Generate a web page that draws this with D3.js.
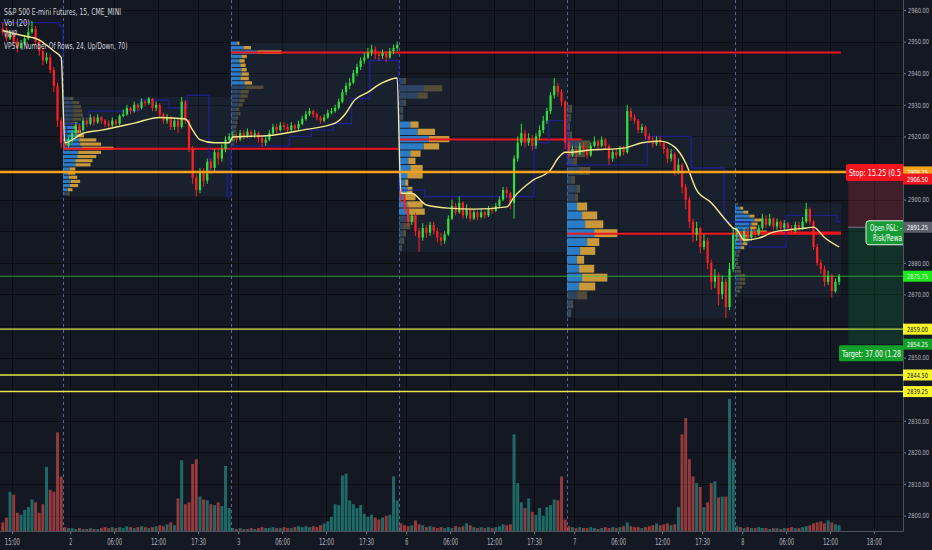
<!DOCTYPE html>
<html>
<head>
<meta charset="utf-8">
<title>S&amp;P 500 E-mini Futures, 15</title>
<script src="https://cdn.jsdelivr.net/npm/d3@7"></script>
<style>
  html, body { margin: 0; padding: 0; background: #141823; overflow: hidden; }
  svg { display: block; }
  text { font-family: "Liberation Sans Narrow", "DejaVu Sans Condensed", "Noto Sans", sans-serif; }
</style>
</head>
<body>
<script>
// ---- values, 30 min bars, one session = 46 bars ----
var firstOpen = 2954;
var gapOpens = { 109: 2903 };   // sunday open after the weekend gap

var closes = [
  2953, 2951, 2952.5, 2950, 2948, 2949.5, 2951, 2953, 2954, 2950, 2947, 2944, 2945, 2941, 2936, 2925, 2918,
  2917, 2919, 2921, 2923.5, 2922, 2925, 2924, 2926, 2924.5, 2926, 2925, 2924, 2923.5, 2925, 2924, 2926.5, 2927, 2929, 2928, 2930, 2929, 2931, 2930.5, 2932, 2929, 2930, 2927, 2925, 2926, 2923, 2925, 2923, 2931, 2925, 2916, 2907, 2903, 2909, 2906, 2912, 2910, 2915, 2913, 2916, 2919, 2920,
  2920, 2919, 2921, 2920, 2921.5, 2920.5, 2921, 2919.5, 2918, 2919, 2921, 2923, 2922, 2923.5, 2923, 2922, 2923.5, 2922.5, 2924, 2925.5, 2927, 2928, 2927, 2926, 2925, 2926, 2927.5, 2928, 2929, 2931, 2934, 2936, 2937, 2940, 2942, 2944, 2945, 2946.5, 2947.5, 2946, 2945.5, 2946.5, 2945, 2947, 2948, 2949,
  2901, 2897, 2893, 2895, 2890, 2888, 2891, 2889.5, 2892, 2890, 2888, 2887, 2889, 2894, 2898, 2896, 2899, 2895, 2897, 2894, 2896, 2894.5, 2896, 2895, 2897, 2896.5, 2898, 2900, 2903, 2902, 2899, 2913, 2918, 2921, 2918, 2919.5, 2917, 2920, 2922, 2925, 2928, 2933, 2936, 2934, 2931, 2918,
  2914, 2916, 2914.5, 2917, 2916, 2914, 2917, 2918.5, 2917, 2919, 2917, 2913, 2915, 2914, 2916, 2915, 2928, 2926, 2925, 2922, 2923, 2920, 2919, 2917.5, 2919, 2918, 2916, 2913, 2914.5, 2909, 2911, 2904, 2900, 2893, 2889, 2891, 2885, 2887, 2880, 2874, 2876, 2870, 2874, 2866, 2878, 2889,
  2889.5, 2887, 2890, 2888, 2890, 2889, 2891, 2894, 2892, 2894, 2891.5, 2893, 2891, 2892.5, 2891, 2890, 2892, 2891, 2893, 2897, 2893, 2885, 2880, 2878, 2874, 2876, 2871, 2874, 2875.75
];
var highs = [
  2956, 2954.5, 2953.5, 2953.5, 2951, 2950.5, 2952, 2954.5, 2956.5, 2955, 2951, 2948, 2946.5, 2946, 2942, 2937, 2926,
  2919.5, 2920, 2922, 2924.5, 2924, 2926, 2926, 2927, 2926.5, 2927, 2926.5, 2925.5, 2925, 2926, 2925.5, 2927, 2928.5, 2930, 2929.5, 2931, 2930.5, 2932, 2931.5, 2932.5, 2932, 2931, 2930.5, 2927.5, 2927, 2926.5, 2926, 2925.5, 2932.5, 2931.5, 2925.5, 2917, 2908, 2910, 2910, 2913, 2913, 2916, 2916, 2917.5, 2920, 2921,
  2921.5, 2921, 2922, 2922, 2922.5, 2922, 2922, 2921.5, 2920, 2920, 2922, 2924, 2924, 2924.5, 2924.5, 2924, 2924.5, 2924, 2925, 2926.5, 2928, 2929, 2928.5, 2927.5, 2926.5, 2927, 2928.5, 2929, 2930, 2932, 2935, 2937, 2938.5, 2941, 2943, 2945, 2946.5, 2948, 2949, 2948.5, 2947, 2947.5, 2947, 2948, 2949, 2950,
  2904, 2902, 2898, 2896.5, 2896, 2891, 2892.5, 2892, 2893, 2893, 2891, 2889.5, 2890, 2895, 2900, 2899, 2901, 2899.5, 2898.5, 2897.5, 2897, 2896.5, 2897, 2896.5, 2898, 2898, 2899, 2901, 2904, 2904, 2902.5, 2914, 2920, 2924, 2922, 2921, 2920.5, 2921, 2923.5, 2926.5, 2929, 2934, 2938.5, 2937, 2935, 2931.5,
  2918.5, 2917, 2917, 2918, 2918, 2916.5, 2918, 2920, 2919, 2920, 2919.5, 2917.5, 2916, 2916, 2917, 2917, 2930, 2929, 2927, 2925.5, 2924, 2923.5, 2921, 2920, 2920, 2920, 2918.5, 2916.5, 2916, 2915, 2913, 2911.5, 2905, 2901, 2894, 2893, 2891.5, 2889, 2888, 2881, 2878, 2877, 2876, 2875, 2880, 2891,
  2891, 2890, 2891, 2891, 2891, 2891, 2892, 2895.5, 2895, 2895.5, 2894.5, 2894, 2893.5, 2893.5, 2893, 2892, 2893, 2893, 2894.5, 2899, 2897.5, 2893.5, 2886, 2881, 2879, 2877.5, 2876.5, 2875, 2876.5
];
var lows = [
  2952, 2950, 2950.5, 2949, 2946.5, 2947.5, 2949, 2950.5, 2952.5, 2949, 2945.5, 2942.5, 2943, 2940, 2934, 2923, 2916.5,
  2916, 2916.5, 2918, 2920.5, 2921, 2921.5, 2923, 2923.5, 2923.5, 2924, 2924, 2923, 2922.5, 2923, 2923, 2923.5, 2926, 2926.5, 2927, 2927.5, 2928, 2928.5, 2929.5, 2930, 2928, 2928, 2926, 2924, 2924, 2922, 2922, 2921, 2922.5, 2924, 2915, 2905, 2901, 2902, 2904, 2905, 2908, 2909, 2911, 2912, 2915, 2918,
  2918.5, 2918, 2918.5, 2919, 2919.5, 2919.5, 2919.5, 2918, 2916.6, 2917, 2918.5, 2920.5, 2921, 2921.5, 2922, 2921, 2921.5, 2921.5, 2922, 2923.5, 2925, 2926.5, 2926, 2925, 2924, 2924.5, 2925.5, 2927, 2927.5, 2928.5, 2930.5, 2933, 2935, 2936.5, 2939, 2941, 2943, 2944.5, 2945.5, 2944.5, 2944, 2944.5, 2943.5, 2944.5, 2946, 2947,
  2899, 2896, 2891.5, 2892, 2888.5, 2883.5, 2887, 2888, 2888.5, 2889, 2886.5, 2885.5, 2886, 2888.5, 2893.5, 2895, 2895.5, 2894, 2894, 2893, 2893.5, 2893.5, 2894, 2894, 2894.5, 2895.5, 2896, 2897.5, 2899.5, 2900.5, 2897, 2894, 2912, 2917, 2916.5, 2917, 2915.5, 2916, 2919, 2921, 2924, 2927, 2932, 2932.5, 2929.5, 2916,
  2913, 2913.5, 2913, 2914, 2915, 2913, 2913.5, 2916.5, 2916, 2916.5, 2916, 2911, 2912, 2913, 2913.5, 2914, 2914.5, 2925, 2924, 2921, 2921, 2919, 2918, 2916.5, 2917, 2917, 2914.5, 2911.5, 2912, 2907.5, 2908, 2902, 2897, 2891, 2886.5, 2887, 2883, 2884, 2878, 2871.5, 2872, 2866.5, 2868.5, 2862.5, 2865, 2877,
  2887, 2885.5, 2886, 2887, 2887, 2888, 2888.5, 2890.5, 2891, 2891.5, 2890.5, 2890.5, 2890, 2890, 2890, 2889, 2889.5, 2890, 2890.5, 2892.5, 2892, 2884, 2879, 2876.5, 2872.5, 2873, 2869, 2870.5, 2873
];
// contracts, thousands
var volumes = [
  9, 14, 41, 38, 19, 17, 22, 25, 33, 30, 19, 28, 67, 43, 41, 103, 57,
  4, 3, 3, 2, 3, 2, 2, 3, 2, 2, 3, 4, 3, 4, 3, 4, 3, 5, 4, 3, 4, 5, 4, 3, 4, 5, 6, 5, 7, 9, 6, 34, 74, 28, 30, 70, 75, 36, 33, 32, 28, 27, 30, 26, 68, 24,
  3, 2, 3, 2, 2, 3, 2, 3, 4, 3, 3, 4, 3, 3, 4, 3, 3, 4, 5, 4, 5, 4, 5, 4, 6, 8, 10, 15, 28, 27, 58, 60, 32, 28, 24, 27, 18, 15, 17, 14, 12, 14, 16, 17, 57, 32,
  8, 6, 5, 6, 11, 7, 6, 4, 5, 4, 3, 4, 3, 4, 3, 5, 4, 5, 8, 6, 4, 3, 4, 3, 4, 3, 4, 5, 7, 6, 7, 101, 50, 30, 24, 34, 20, 17, 24, 16, 25, 27, 33, 32, 57, 12,
  5, 4, 3, 4, 3, 3, 4, 3, 2, 3, 4, 3, 4, 3, 4, 5, 9, 5, 4, 4, 3, 4, 5, 6, 8, 6, 7, 8, 6, 7, 25, 101, 118, 75, 57, 50, 46, 25, 30, 50, 52, 35, 36, 36, 138, 75,
  5, 4, 3, 4, 3, 3, 4, 3, 3, 2, 3, 3, 2, 3, 3, 4, 3, 3, 4, 5, 6, 8, 9, 10, 8, 11, 9, 7, 6
];

var tickIdx = [3, 19, 31, 43, 54, 65, 77, 89, 100, 111, 123, 135, 146, 157, 169, 181, 192, 203, 215, 227, 239];
var tickLabels = ["15:00", "2", "06:00", "12:00", "17:30", "3", "06:00", "12:00", "17:30", "6", "06:00", "12:00", "17:30", "7", "06:00", "12:00", "17:30", "8", "06:00", "12:00", "18:00"];

var vwapIdx = [0, 5, 10, 14, 16, 17, 22, 27, 36, 43, 50, 52, 54, 58, 62, 63, 73, 82, 91, 94, 96, 100, 104, 108,
  109, 112, 116, 122, 129, 138, 140, 145, 150, 152, 154, 155, 161, 170, 175, 180, 184, 187, 190, 194, 198, 200,
  201, 203, 207, 211, 215, 220, 222, 225, 229];
var vwapVal = [2953.5, 2952, 2950.5, 2947, 2945, 2918, 2921, 2922, 2924.2, 2926, 2925.5, 2922, 2919, 2918, 2918,
  2919.8, 2920.3, 2922, 2924.2, 2927.4, 2931, 2934, 2937, 2938.5,
  2902, 2902, 2898.3, 2897.3, 2897, 2897.7, 2900.8, 2906, 2909.4, 2913, 2915,
  2915, 2915.7, 2916.3, 2918, 2918.5, 2916.6, 2911.6, 2903, 2899, 2893.5, 2891,
  2890.5, 2887.2, 2887.8, 2889.7, 2890.4, 2891, 2891.3, 2888, 2885];

// the dark blue stepped line
var bandIdx = [0, 16, 17, 18, 24, 38, 46, 51, 57, 62, 63, 79, 85, 91, 96, 101, 109, 116, 146, 150, 155, 177, 189, 198, 205, 215, 229];
var bandVal = [2956, 2955, 2920, 2924, 2928, 2931.5, 2929, 2933, 2909, 2901, 2917, 2920, 2922, 2924, 2932, 2944, 2903, 2901, 2918, 2925, 2911, 2920, 2910, 2893, 2885, 2895, 2893];

// session volume profiles (24 rows, bottom row first)
var sessionStart = [17, 63, 109, 155, 201];
var sessionEnd = [63, 109, 155, 201, 230];
var profileLow = [2901, 2916.6, 2883.4, 2862.5, 2869];
var profileHigh = [2932.5, 2950, 2938.5, 2930, 2899];
var vaLow = [1, 14, 5, 3, 12];
var vaHigh = [16, 23, 17, 12, 22];
var pocEnd = [109, 230, 159, 230, 230];

var upRows2 = [4, 5, 7, 8, 6, 5, 7, 13, 13, 15, 16, 20, 18, 17, 14, 15, 11, 8, 10, 11, 11, 11, 10, 7];
var downRows2 = [3, 5, 9, 10, 9, 8, 6, 16, 18, 20, 24, 33, 22, 18, 8, 4, 3, 8, 9, 10, 9, 8, 7, 4];
var upRows3 = [2, 3, 3, 4, 3, 4, 5, 6, 5, 7, 8, 9, 9, 14, 13, 9, 10, 10, 9, 8, 10, 25, 12, 6];
var downRows3 = [1, 1, 2, 1, 2, 2, 2, 3, 3, 4, 5, 7, 8, 17, 7, 8, 7, 5, 5, 5, 5, 23, 7, 2];
var upRows6 = [2, 3, 4, 4, 9, 8, 8, 6, 8, 6, 8, 11, 9, 11, 24, 29, 18, 11, 3, 3, 5, 18, 24, 5];
var downRows6 = [1, 2, 3, 7, 8, 17, 15, 10, 5, 3, 15, 12, 7, 10, 15, 20, 17, 8, 1, 1, 2, 10, 18, 2];
var upRows7 = [3, 4, 10, 12, 15, 12, 10, 13, 20, 27, 18, 15, 10, 8, 10, 5, 12, 6, 10, 14, 3, 2, 3, 3];
var downRows7 = [1, 2, 10, 16, 25, 15, 7, 15, 12, 23, 18, 15, 10, 3, 3, 3, 11, 4, 8, 9, 2, 1, 1, 2];
var upRows8 = [1, 2, 3, 4, 5, 4, 2, 2, 1, 2, 2, 3, 6, 8, 9, 10, 21, 14, 16, 19, 14, 8, 5, 2];
var downRows8 = [1, 3, 4, 6, 5, 6, 4, 3, 2, 1, 2, 2, 3, 4, 5, 6, 10, 7, 6, 8, 5, 5, 3, 1];
var upRows = [upRows2, upRows3, upRows6, upRows7, upRows8];
var downRows = [downRows2, downRows3, downRows6, downRows7, downRows8];

// drawings and the short position
var yellowLevels = [2859.00, 2844.50, 2839.25];
var orangeLevel = 2908.75;
var entryPrice = 2891.25, stopPrice = 2906.50, targetPrice = 2854.25;
var posStartIdx = 232;

var legendLines = ["S&P 500 E-mini Futures, 15, CME_MINI", "Vol (20)", "VWAP", "VPSV (Number Of Rows, 24, Up/Down, 70)"];

var chart = (function() {
  var W = 932, H = 550, right = 903, bottom = 531;
  var bg = "#141823";

  // squeeze text to the narrow TradingView look
  var narrow = function(sel, perChar) {
    sel.attr("textLength", function() { return this.textContent.length * perChar; })
      .attr("lengthAdjust", "spacingAndGlyphs");
  };

  var svg = d3.select("body").append("svg").attr("width", W).attr("height", H);

  // bar index -> x (left edge of the bar)
  var x = d3.scaleLinear().domain([17, 63]).range([63, 231]);
  var bw = x(1) - x(0);
  var y = d3.scaleLinear().domain([2800, 2960]).range([515.6, 10]);
  var yv = d3.scaleLinear().domain([0, 140]).range([bottom, bottom - 134]);

  var bars = closes.map(function(c, i) {
    var o = gapOpens[i] !== undefined ? gapOpens[i] : (i === 0 ? firstOpen : closes[i - 1]);
    return { i: i, o: o, h: highs[i], l: lows[i], c: c, v: volumes[i], up: c >= o };
  });

  svg.append("rect").attr("width", W).attr("height", H).attr("fill", bg);
  svg.append("defs").append("clipPath").attr("id", "plot")
    .append("rect").attr("width", right).attr("height", bottom);
  var plot = svg.append("g").attr("clip-path", "url(#plot)");

  // grid
  var grid = plot.append("g").attr("stroke", "#0a0c11").attr("stroke-width", 1);
  grid.selectAll("line.h").data(d3.range(2800, 2961, 10)).enter().append("line")
    .attr("class", "h")
    .attr("x1", 0).attr("x2", right)
    .attr("y1", function(d) { return Math.round(y(d)) + 0.5; })
    .attr("y2", function(d) { return Math.round(y(d)) + 0.5; });
  grid.selectAll("line.v").data(tickIdx).enter().append("line")
    .attr("class", "v")
    .attr("y1", 0).attr("y2", bottom)
    .attr("x1", function(d) { return Math.round(x(d)) + 0.5; })
    .attr("x2", function(d) { return Math.round(x(d)) + 0.5; });

  // session breaks
  plot.append("g").selectAll("line").data(sessionStart).enter().append("line")
    .attr("x1", function(d) { return Math.round(x(d)) + 0.5; })
    .attr("x2", function(d) { return Math.round(x(d)) + 0.5; })
    .attr("y1", 0).attr("y2", bottom)
    .attr("stroke", "#56648f").attr("stroke-dasharray", "3,3").attr("stroke-width", 1);

  // profile boxes
  plot.append("g").selectAll("rect").data(sessionStart).enter().append("rect")
    .attr("x", function(d) { return x(d); })
    .attr("width", function(d, s) { return x(sessionEnd[s]) - x(d); })
    .attr("y", function(d, s) { return y(profileHigh[s]); })
    .attr("height", function(d, s) { return y(profileLow[s]) - y(profileHigh[s]); })
    .attr("fill", "#5d8fd0").attr("fill-opacity", 0.075);

  // volume
  plot.append("g").selectAll("rect").data(bars).enter().append("rect")
    .attr("x", function(d) { return x(d.i) + 0.35; })
    .attr("width", bw - 0.7)
    .attr("y", function(d) { return yv(d.v); })
    .attr("height", function(d) { return bottom - yv(d.v); })
    .attr("fill", function(d) { return d.up ? "#26a69a" : "#ef5350"; })
    .attr("fill-opacity", 0.58);

  // volume profiles
  var pocs = [];
  var prof = plot.append("g");
  sessionStart.forEach(function(start, s) {
    var lo = profileLow[s], hi = profileHigh[s];
    var rowH = (hi - lo) / 24;
    var rows = upRows[s].map(function(u, k) {
      return { k: k, up: u, dn: downRows[s][k], va: k >= vaLow[s] && k <= vaHigh[s] };
    });
    var maxTot = d3.max(rows, function(r) { return r.up + r.dn; });
    var w = d3.scaleLinear().domain([0, maxTot]).range([0, 0.3 * (x(sessionEnd[s]) - x(start))]);
    var x0 = x(start);
    var poc = d3.greatest(rows, function(r) { return r.up + r.dn; });
    pocs.push({ s: s, price: lo + (poc.k + 0.5) * rowH });

    var rowTop = function(r) { return y(lo + (r.k + 1) * rowH); };
    var rowHt = function(r) { return Math.max(0.8, y(lo + r.k * rowH) - y(lo + (r.k + 1) * rowH) - 1); };
    var g = prof.append("g");
    g.selectAll("rect.u").data(rows).enter().append("rect")
      .attr("x", x0)
      .attr("width", function(r) { return w(r.up); })
      .attr("y", rowTop).attr("height", rowHt)
      .attr("fill", function(r) { return r.va ? "#2f8ce0" : "#3c5f88"; })
      .attr("fill-opacity", function(r) { return r.va ? 0.85 : 0.6; });
    g.selectAll("rect.d").data(rows).enter().append("rect")
      .attr("x", function(r) { return x0 + w(r.up); })
      .attr("width", function(r) { return w(r.dn); })
      .attr("y", rowTop).attr("height", rowHt)
      .attr("fill", function(r) { return r.va ? "#e0a83c" : "#7a6a40"; })
      .attr("fill-opacity", function(r) { return r.va ? 0.88 : 0.6; });
  });

  // point of control, extended until hit
  plot.append("g").selectAll("line").data(pocs).enter().append("line")
    .attr("x1", function(d) { return x(sessionStart[d.s]); })
    .attr("x2", function(d) { return x(pocEnd[d.s]); })
    .attr("y1", function(d) { return y(d.price); })
    .attr("y2", function(d) { return y(d.price); })
    .attr("stroke", "#f0141e").attr("stroke-width", 2);

  // blue stepped line
  var band = bandIdx.map(function(d, i) { return { i: d, v: bandVal[i] }; });
  band.push({ i: 230, v: bandVal[bandVal.length - 1] });
  plot.append("path").datum(band)
    .attr("d", d3.line().x(function(d) { return x(d.i); }).y(function(d) { return y(d.v); }).curve(d3.curveStepAfter))
    .attr("fill", "none").attr("stroke", "#2222a8").attr("stroke-width", 1.4).attr("stroke-opacity", 0.75);

  // candles
  var cg = plot.append("g");
  cg.selectAll("line").data(bars).enter().append("line")
    .attr("x1", function(d) { return x(d.i + 0.5); })
    .attr("x2", function(d) { return x(d.i + 0.5); })
    .attr("y1", function(d) { return y(d.h); })
    .attr("y2", function(d) { return y(d.l); })
    .attr("stroke", function(d) { return d.up ? "#33e03c" : "#ff1f1f"; })
    .attr("stroke-width", 1);
  cg.selectAll("rect").data(bars).enter().append("rect")
    .attr("x", function(d) { return x(d.i + 0.5) - 1.1; })
    .attr("width", 2.2)
    .attr("y", function(d) { return y(Math.max(d.o, d.c)); })
    .attr("height", function(d) { return Math.max(0.8, Math.abs(y(d.o) - y(d.c))); })
    .attr("fill", function(d) { return d.up ? "#33e03c" : "#ff1f1f"; });

  // vwap
  var vw = vwapIdx.map(function(d, i) { return { i: d, v: vwapVal[i] }; });
  plot.append("path").datum(vw)
    .attr("d", d3.line().x(function(d) { return x(d.i + 0.5); }).y(function(d) { return y(d.v); }).curve(d3.curveMonotoneX))
    .attr("fill", "none").attr("stroke", "#f3ea8e").attr("stroke-width", 1.4);

  // horizontal drawings
  var last = bars[bars.length - 1].c;
  plot.append("line").attr("x1", 0).attr("x2", right).attr("y1", y(last)).attr("y2", y(last))
    .attr("stroke", "#3cc43c").attr("stroke-width", 1).attr("stroke-opacity", 0.75);
  plot.append("g").selectAll("line").data(yellowLevels).enter().append("line")
    .attr("x1", 0).attr("x2", right)
    .attr("y1", function(d) { return y(d); }).attr("y2", function(d) { return y(d); })
    .attr("stroke", "#e3e64c").attr("stroke-width", 1.4);
  plot.append("line").attr("x1", 0).attr("x2", right).attr("y1", y(orangeLevel)).attr("y2", y(orangeLevel))
    .attr("stroke", "#f8a11b").attr("stroke-width", 2.6);

  // short position tool
  var px = x(posStartIdx);
  plot.append("rect").attr("x", px).attr("width", right - px)
    .attr("y", y(stopPrice)).attr("height", y(entryPrice) - y(stopPrice))
    .attr("fill", "#f23645").attr("fill-opacity", 0.2);
  plot.append("rect").attr("x", px).attr("width", right - px)
    .attr("y", y(entryPrice)).attr("height", y(targetPrice) - y(entryPrice))
    .attr("fill", "#089940").attr("fill-opacity", 0.2);
  plot.append("line").attr("x1", px).attr("x2", right).attr("y1", y(entryPrice)).attr("y2", y(entryPrice))
    .attr("stroke", "#787b86").attr("stroke-width", 1);

  // the labels run under the price scale, only their visible part is written
  var risk = stopPrice - entryPrice, reward = entryPrice - targetPrice;
  var stopBox = plot.append("g").attr("transform", "translate(846," + (y(stopPrice) - 15) + ")");
  stopBox.append("rect").attr("width", 60).attr("height", 17).attr("rx", 2).attr("fill", "#f2141e");
  stopBox.append("text").attr("x", 3).attr("y", 12).attr("fill", "#fff").attr("font-size", 9)
    .attr("textLength", 52).attr("lengthAdjust", "spacingAndGlyphs")
    .text("Stop: " + risk.toFixed(2) + " (0.5");

  var tgtBox = plot.append("g").attr("transform", "translate(839," + (y(targetPrice) + 1) + ")");
  tgtBox.append("rect").attr("width", 66).attr("height", 16).attr("rx", 2).attr("fill", "#12a02a");
  tgtBox.append("text").attr("x", 3).attr("y", 12).attr("fill", "#fff").attr("font-size", 9)
    .attr("textLength", 59).attr("lengthAdjust", "spacingAndGlyphs")
    .text("Target: " + reward.toFixed(2) + " (1.28");

  var pnl = plot.append("g").attr("transform", "translate(866," + (y(entryPrice) - 6.5) + ")");
  pnl.append("rect").attr("width", 50).attr("height", 24).attr("rx", 3)
    .attr("fill", "#169a35").attr("stroke", "#e8e8e8").attr("stroke-width", 1);
  pnl.append("text").attr("x", 4).attr("y", 10).attr("fill", "#fff").attr("font-size", 9)
    .attr("textLength", 32).attr("lengthAdjust", "spacingAndGlyphs")
    .text("Open P&L: -");
  pnl.append("text").attr("x", 7).attr("y", 20.5).attr("fill", "#fff").attr("font-size", 9)
    .attr("textLength", 29).attr("lengthAdjust", "spacingAndGlyphs")
    .text("Risk/Rewa");

  // legend
  svg.append("g").selectAll("text").data(legendLines).enter().append("text")
    .attr("x", 4).attr("y", function(d, i) { return 15 + i * 11.2; })
    .attr("fill", "#d1d4dc").attr("font-size", 9)
    .text(function(d) { return d; })
    .call(narrow, 3.25);

  // ---- axes ----
  svg.append("rect").attr("x", right).attr("width", W - right).attr("height", H).attr("fill", bg);
  svg.append("rect").attr("y", bottom).attr("width", W).attr("height", H - bottom).attr("fill", bg);

  var priceTags = [
    { v: orangeLevel, fill: "#f8a11b", color: "#ffffff" },
    { v: stopPrice, fill: "#f2141e", color: "#ffffff" },
    { v: entryPrice, fill: "#5d606b", color: "#ffffff" },
    { v: last, fill: "#1fe61f", color: "#d8f5d8" },
    { v: yellowLevels[0], fill: "#f5f52a", color: "#131722" },
    { v: targetPrice, fill: "#12a02a", color: "#ffffff" },
    { v: yellowLevels[1], fill: "#f5f52a", color: "#131722" },
    { v: yellowLevels[2], fill: "#f5f52a", color: "#131722" }
  ];

  var ticks = d3.range(2800, 2961, 10).filter(function(t) {
    return !priceTags.some(function(p) { return Math.abs(y(p.v) - y(t)) < 9; });
  });
  var ya = svg.append("g").attr("transform", "translate(" + right + ",0)")
    .call(d3.axisRight(y).tickValues(ticks).tickSize(3).tickPadding(2).tickFormat(d3.format(".2f")));
  ya.select(".domain").remove();
  ya.selectAll("line").attr("stroke", "#787b86");
  ya.selectAll("text").attr("fill", "#b2b5be").attr("font-size", 7).call(narrow, 3);

  var xa = svg.append("g").attr("transform", "translate(0," + bottom + ")")
    .call(d3.axisBottom(x).tickValues(tickIdx).tickSize(3).tickPadding(5)
      .tickFormat(function(d, i) { return tickLabels[i]; }));
  xa.select(".domain").remove();
  xa.selectAll("line").attr("stroke", "#787b86");
  xa.selectAll("text").attr("fill", "#b2b5be").attr("font-size", 8).call(narrow, 3);

  svg.append("line").attr("x1", right + 0.5).attr("x2", right + 0.5).attr("y1", 0).attr("y2", bottom + 0.5)
    .attr("stroke", "#4c525e");
  svg.append("line").attr("x1", 0).attr("x2", right + 0.5).attr("y1", bottom + 0.5).attr("y2", bottom + 0.5)
    .attr("stroke", "#4c525e");

  var tags = svg.append("g").selectAll("g").data(priceTags).enter().append("g")
    .attr("transform", function(d) { return "translate(" + right + "," + (y(d.v) - 5.5) + ")"; });
  tags.append("rect").attr("width", W - right).attr("height", 11)
    .attr("fill", function(d) { return d.fill; });
  tags.append("text").attr("x", 4).attr("y", 8.3).attr("font-size", 7)
    .attr("fill", function(d) { return d.color; })
    .text(function(d) { return d.v.toFixed(2); })
    .call(narrow, 3);

  console.log("drew " + bars.length + " bars");
  return { svg: svg, x: x, y: y };
})();
</script>
</body>
</html>
